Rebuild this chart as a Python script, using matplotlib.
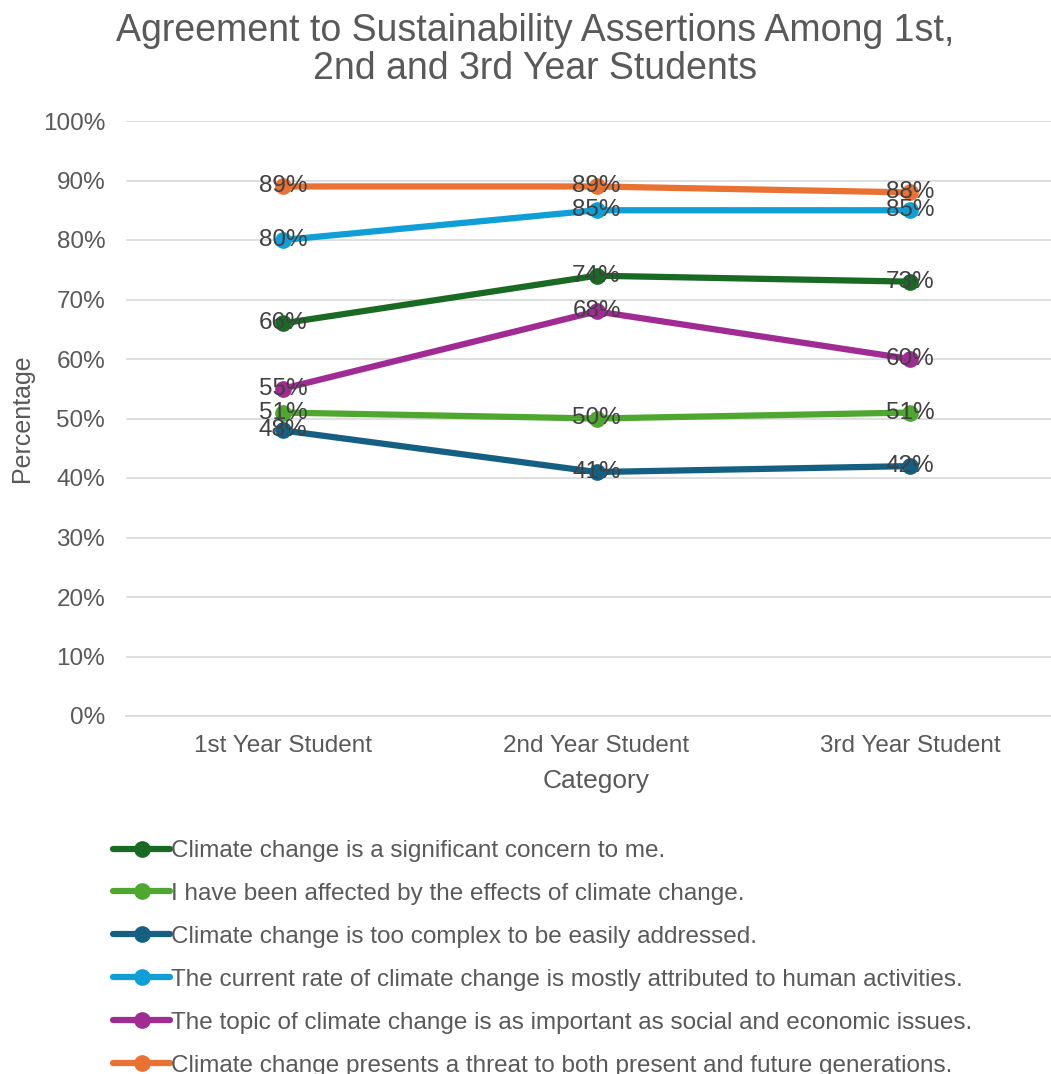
import matplotlib
matplotlib.use("Agg")
import matplotlib.pyplot as plt
from matplotlib.ticker import PercentFormatter

plt.rcParams['font.family'] = ['Liberation Sans', 'DejaVu Sans']

categories = ["1st Year Student", "2nd Year Student", "3rd Year Student"]
series_names = [
    "Climate change is a significant concern to me.",
    "I have been affected by the effects of climate change.",
    "Climate change is too complex to be easily addressed.",
    "The current rate of climate change is mostly attributed to human activities.",
    "The topic of climate change is as important as social and economic issues.",
    "Climate change presents a threat to both present and future generations.",
]
concern = [66, 74, 73]
affected = [51, 50, 51]
complex_ = [48, 41, 42]
human = [80, 85, 85]
important = [55, 68, 60]
threat = [89, 89, 88]
values = [concern, affected, complex_, human, important, threat]
colors = ["#196b24", "#4ea72e", "#156082", "#0f9ed5", "#a02b93", "#e97132"]

W, H = 1051, 1074
fig = plt.figure(figsize=(W / 100, H / 100), dpi=100)
ax = fig.add_axes([126 / W, 1 - 716 / H, 941 / W, (716 - 121) / H])

x = list(range(len(categories)))
handles = []
for name, vals, c in zip(series_names, values, colors):
    h, = ax.plot(x, vals, color=c, lw=4.5, marker='o', ms=11, solid_capstyle='round',
                 label=name, zorder=3)
    handles.append(h)
    for xi, v in zip(x, vals):
        ax.text(xi, v, f"{v}%", ha='center', va='center', fontsize=17.5,
                color='#404040', zorder=4)

ax.set_xlim(-0.5, 2.5)
ax.set_ylim(0, 100)
ax.set_yticks(range(0, 101, 10))
ax.yaxis.set_major_formatter(PercentFormatter(decimals=0))
ax.set_xticks(x)
ax.set_xticklabels(categories)
ax.tick_params(axis='both', length=0, labelsize=17.5, colors='#595959')
ax.tick_params(axis='y', pad=15)
ax.tick_params(axis='x', pad=14)
ax.grid(axis='y', color='#d9d9d9', lw=1.2)
ax.set_axisbelow(True)
for s in ['top', 'right', 'left']:
    ax.spines[s].set_visible(False)
ax.spines['bottom'].set_color('#d9d9d9')
ax.spines['bottom'].set_linewidth(1.2)

ax.set_xlabel("Category", fontsize=19, color='#595959', labelpad=8)
ax.set_ylabel("Percentage", fontsize=18, color='#595959', labelpad=6)

fig.text(535 / W, 1 - 50 / H,
         "Agreement to Sustainability Assertions Among 1st,\n2nd and 3rd Year Students",
         ha='center', va='center', fontsize=27, color='#595959', linespacing=1.05)

leg = fig.legend(handles=handles, loc='upper left', bbox_to_anchor=(113 / W, 1 - 840 / H),
                 frameon=False, fontsize=17.5, labelcolor='#595959', handlelength=2.35,
                 handletextpad=0.05, labelspacing=0.86, borderaxespad=0, borderpad=0)

fig.savefig("out.png", dpi=100)
